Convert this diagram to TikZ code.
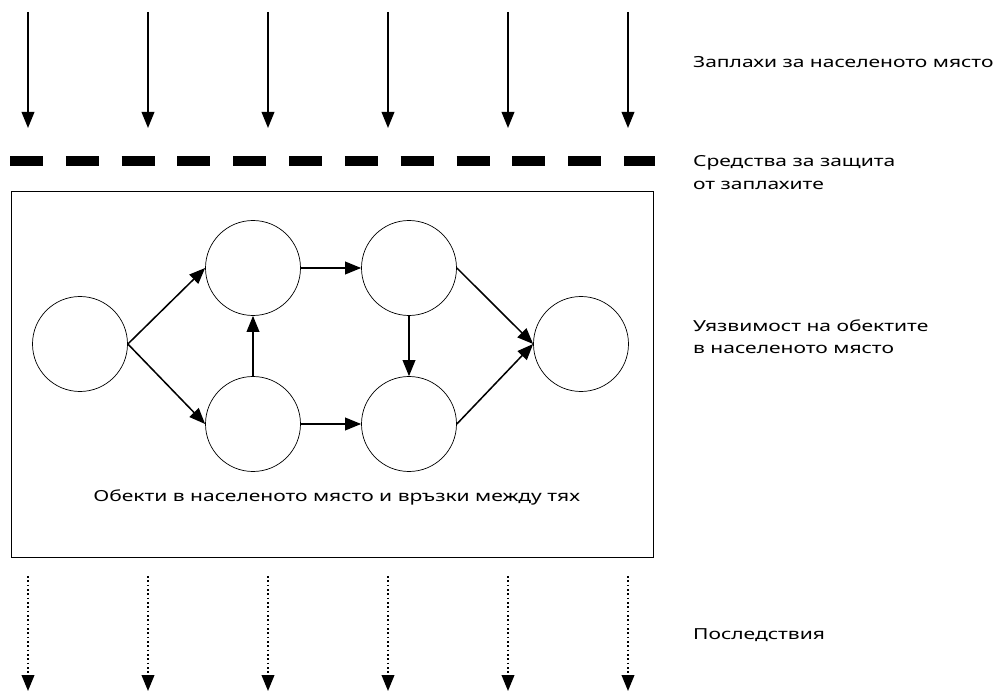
\documentclass[tikz,border=0pt]{standalone}
\usepackage{fontspec}
\setmainfont[Script=Cyrillic, Language=Bulgarian, FakeStretch=1.38]{Noto Sans}
\usetikzlibrary{arrows.meta,positioning}
\tikzset{>={Triangle[length=4.8mm,width=3.8mm]}}

\begin{document}
\begin{tikzpicture}[node distance=1cm, on grid,
                every node/.append style={align=left, font=\fontsize{13}{19.5}\selectfont},
                obj/.style={draw, circle, minimum size=2.85cm, inner sep=0pt, line width=0.6pt},
                lbl/.style={anchor=west}]

\useasboundingbox (0,0) rectangle (30.15,-20.79);

% settlement and its objects
\node[draw, line width=0.6pt, minimum width=19.26cm, minimum height=10.98cm] (town) at (9.96,-11.22) {};
\node[obj] (o1) at (2.4,-10.32) {};
\node[obj, above right=2.28cm and 5.19cm of o1] (o2) {};
\node[obj, right=4.68cm of o2] (o3) {};
\node[obj, below=4.68cm of o2] (o4) {};
\node[obj, right=4.68cm of o4] (o5) {};
\node[obj, below right=2.28cm and 5.16cm of o3] (o6) {};
\node (cap) at (10.1,-14.91) {Обекти в населеното място и връзки между тях};

\path[->, line width=1.3pt] (o1.east) edge (o2.west)
    (o1.east) edge (o4.west)
    (o4.north) edge (o2.south)
    (o2.east) edge (o3.west)
    (o4.east) edge (o5.west)
    (o3.south) edge (o5.north)
    (o3.east) edge (o6.west)
    (o5.east) edge (o6.west);

% threats
\coordinate (a1) at (0.84,-0.36);
\coordinate[right=3.6cm of a1] (a2);
\coordinate[right=3.6cm of a2] (a3);
\coordinate[right=3.6cm of a3] (a4);
\coordinate[right=3.6cm of a4] (a5);
\coordinate[right=3.6cm of a5] (a6);
\coordinate[below=3.48cm of a1] (b1);
\coordinate[below=3.48cm of a2] (b2);
\coordinate[below=3.48cm of a3] (b3);
\coordinate[below=3.48cm of a4] (b4);
\coordinate[below=3.48cm of a5] (b5);
\coordinate[below=3.48cm of a6] (b6);
\path[->, line width=1.3pt] (a1) edge (b1) (a2) edge (b2) (a3) edge (b3)
    (a4) edge (b4) (a5) edge (b5) (a6) edge (b6);

% protection
\coordinate (s1) at (0.3,-4.83);
\coordinate (s2) at (19.65,-4.83);
\draw[line width=0.3cm, dash pattern=on 0.99cm off 0.6845cm] (s1) -- (s2);

% consequences
\coordinate (c1) at (0.84,-17.28);
\coordinate[right=3.6cm of c1] (c2);
\coordinate[right=3.6cm of c2] (c3);
\coordinate[right=3.6cm of c3] (c4);
\coordinate[right=3.6cm of c4] (c5);
\coordinate[right=3.6cm of c5] (c6);
\coordinate[below=3.45cm of c1] (d1);
\coordinate[below=3.45cm of c2] (d2);
\coordinate[below=3.45cm of c3] (d3);
\coordinate[below=3.45cm of c4] (d4);
\coordinate[below=3.45cm of c5] (d5);
\coordinate[below=3.45cm of c6] (d6);
\path[->, line width=1.5pt, dash pattern=on 1.4pt off 2.3pt] (c1) edge (d1) (c2) edge (d2) (c3) edge (d3)
    (c4) edge (d4) (c5) edge (d5) (c6) edge (d6);

\node[lbl] (threat) at (20.67,-1.86) {Заплахи за населеното място};
\node[lbl] (prot) at (20.67,-5.18) {Средства за защита\\от заплахите};
\node[lbl] (vuln) at (20.67,-10.1) {Уязвимост на обектите\\в населеното място};
\node[lbl] (cons) at (20.67,-19.05) {Последствия};

\end{tikzpicture}
\end{document}
